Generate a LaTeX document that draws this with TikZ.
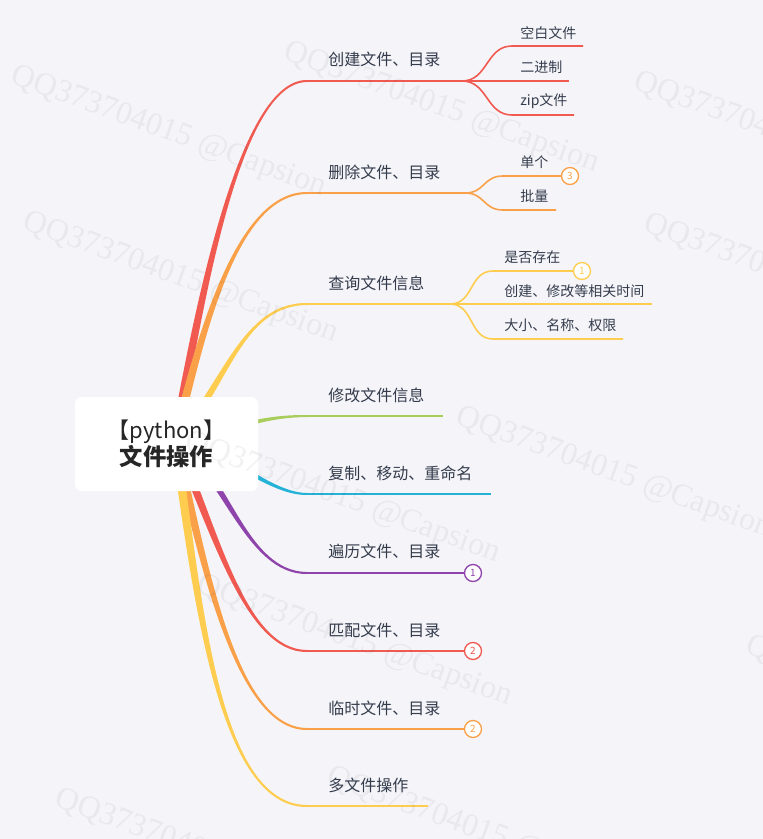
\documentclass[tikz,border=0pt]{standalone}
\usepackage{fontspec}
\setmainfont{Noto Sans CJK SC}
\newfontfamily\wmfont{Liberation Serif}
\definecolor{bg}{HTML}{F5F5F9}
\definecolor{txt}{HTML}{343C4C}
\definecolor{rootc}{HTML}{262626}
\definecolor{cr}{HTML}{F05A50}
\definecolor{co}{HTML}{F9A048}
\definecolor{cy}{HTML}{FECD50}
\definecolor{cg}{HTML}{A8CD5A}
\definecolor{cb}{HTML}{25B2D7}
\definecolor{cp}{HTML}{8E44AA}
\definecolor{wmc}{HTML}{404050}
% tapered branch going up: left edge pairs with upper edge
\newcommand\brUp[9]{\fill[#1] ({#2-4.5},#3) .. controls ({#4-4},#5) and (#6,{#7-1.6}) .. (#8,{#9-1}) -- (#8,{#9+1}) .. controls (#6,{#7+1.6}) and ({#4+4},#5) .. ({#2+4.5},#3) -- cycle;}
% tapered branch going down: left edge pairs with lower edge
\newcommand\brDn[9]{\fill[#1] ({#2-4.5},#3) .. controls ({#4-4},#5) and (#6,{#7+1.6}) .. (#8,{#9+1}) -- (#8,{#9-1}) .. controls (#6,{#7-1.6}) and ({#4+4},#5) .. ({#2+4.5},#3) -- cycle;}
% tapered branch, mostly horizontal
\newcommand\brHz[9]{\fill[#1] (#2,{#3-4.5}) .. controls (#4,{#5-4}) and (#6,{#7-1.6}) .. (#8,{#9-1}) -- (#8,{#9+1}) .. controls (#6,{#7+1.6}) and (#4,{#5+4}) .. (#2,{#3+4.5}) -- cycle;}
\begin{document}
\begin{tikzpicture}[x=0.75pt,y=-0.75pt,
  lbl/.style={anchor=west,inner sep=0pt,text=txt,font=\fontsize{12}{14}\selectfont},
  sublbl/.style={anchor=west,inner sep=0pt,text=txt,font=\fontsize{10.5}{12}\selectfont},
  mainln/.style={line width=1.5pt},
  subln/.style={line width=1.2pt},
  badge/.style={circle,draw=#1,fill=white,text=#1,line width=1pt,minimum size=12.75pt,inner sep=0pt,font=\fontsize{7.5}{8}\selectfont},
  wm/.style={anchor=north west,inner sep=0pt,rotate=-20,text=wmc,text opacity=0.07,font=\wmfont\fontsize{24}{24}\selectfont},
  rootbox/.style={fill=white,rounded corners=5pt,minimum width=137.25pt,minimum height=70.5pt,inner sep=0pt,align=center,text=rootc}
]
\fill[bg] (0,0) rectangle (763,839);
\useasboundingbox (0,0) rectangle (763,839);

% ---------- coordinates ----------
\coordinate (O) at (175,440);
\coordinate (E1) at (307,81);  \coordinate (F1) at (462,81);
\coordinate (s11) at (512,46); \coordinate (e11) at (583,46);
\coordinate (e12) at (569,81);
\coordinate (s13) at (512,115); \coordinate (e13) at (574,115);
\coordinate (E2) at (307,193); \coordinate (F2) at (465,193);
\coordinate (s21) at (503,176);
\coordinate (s22) at (503,210); \coordinate (e22) at (556,210);
\coordinate (E3) at (307,304); \coordinate (F3) at (450,304);
\coordinate (s31) at (493,271);
\coordinate (e32) at (652,304);
\coordinate (s33) at (493,339); \coordinate (e33) at (623,339);
\coordinate (E4) at (307,416); \coordinate (e4) at (443,416);
\coordinate (E5) at (307,494); \coordinate (e5) at (491,494);
\coordinate (E6) at (307,573);
\coordinate (E7) at (307,651);
\coordinate (E8) at (307,729);
\coordinate (E9) at (307,806); \coordinate (e9) at (428,806);

% ---------- tapered branches from the root ----------
\brUp{cr}{175}{440}{200}{300}{240}{81}{307}{81}
\brUp{co}{175}{440}{200}{340}{235}{193}{307}{193}
\brUp{cy}{175}{440}{225}{390}{240}{304}{307}{304}
\brHz{cg}{175}{440}{215}{440}{245}{416}{307}{416}
\brHz{cb}{175}{440}{215}{440}{265}{494}{307}{494}
\brDn{cp}{175}{440}{225}{470}{245}{573}{307}{573}
\brDn{cr}{175}{440}{215}{530}{245}{651}{307}{651}
\brDn{co}{175}{440}{203}{560}{235}{729}{307}{729}
\brDn{cy}{175}{440}{198}{600}{218}{806}{307}{806}

% ---------- badges ----------
\node[badge=co] (B2) at (570,176) {3};
\node[badge=cy] (B3) at (582,271) {1};
\node[badge=cp] (B6) at (473,573) {1};
\node[badge=cr] (B7) at (473,651) {2};
\node[badge=co] (B8) at (473,729) {2};

% ---------- branch lines ----------
\draw[cr,mainln] (E1) -- (F1);
\draw[cr,subln] (F1) -- (e12);
\draw[cr,subln] (F1) .. controls +(26,0) and +(-26,0) .. (s11) -- (e11);
\draw[cr,subln] (F1) .. controls +(26,0) and +(-26,0) .. (s13) -- (e13);

\draw[co,mainln] (E2) -- (F2);
\draw[co,subln] (F2) .. controls +(20,0) and +(-20,0) .. (s21) -- (B2.west);
\draw[co,subln] (F2) .. controls +(20,0) and +(-20,0) .. (s22) -- (e22);

\draw[cy,mainln] (E3) -- (F3);
\draw[cy,subln] (F3) -- (e32);
\draw[cy,subln] (F3) .. controls +(24,0) and +(-24,0) .. (s31) -- (B3.west);
\draw[cy,subln] (F3) .. controls +(24,0) and +(-24,0) .. (s33) -- (e33);

\draw[cg,mainln] (E4) -- (e4);
\draw[cb,mainln] (E5) -- (e5);
\draw[cp,mainln] (E6) -- (B6.west);
\draw[cr,mainln] (E7) -- (B7.west);
\draw[co,mainln] (E8) -- (B8.west);
\draw[cy,mainln] (E9) -- (e9);

% ---------- labels ----------
\node[lbl] (L1) at (328,59.5) {创建文件、目录};
\node[sublbl] (L11) at (520,33) {空白文件};
\node[sublbl] (L12) at (520,67) {二进制};
\node[sublbl] (L13) at (520,101) {zip文件};
\node[lbl] (L2) at (328,172) {删除文件、目录};
\node[sublbl] (L21) at (520,162) {单个};
\node[sublbl] (L22) at (520,196.5) {批量};
\node[lbl] (L3) at (328,283) {查询文件信息};
\node[sublbl] (L31) at (504,257.5) {是否存在};
\node[sublbl] (L32) at (504,291) {创建、修改等相关时间};
\node[sublbl] (L33) at (504,325) {大小、名称、权限};
\node[lbl] (L4) at (328,395) {修改文件信息};
\node[lbl] (L5) at (328,473) {复制、移动、重命名};
\node[lbl] (L6) at (328,551.5) {遍历文件、目录};
\node[lbl] (L7) at (328,630) {匹配文件、目录};
\node[lbl] (L8) at (328,708.5) {临时文件、目录};
\node[lbl] (L9) at (328,785.5) {多文件操作};

% ---------- root ----------
\node[rootbox] (root) at (166.5,444) {\fontsize{16.5}{22}\selectfont 【python】\\[0pt]\fontsize{17.5}{22}\selectfont\bfseries 文件操作};

% ---------- watermarks ----------
\node[wm] (w1) at (17,62) {QQ373704015 @Capsion};
\node[wm] (w2) at (29,208) {QQ373704015 @Capsion};
\node[wm] (w3) at (290,38) {QQ373704015 @Capsion};
\node[wm] (w4) at (640,68) {QQ373704015 @Capsion};
\node[wm] (w5) at (650,210) {QQ373704015 @Capsion};
\node[wm] (w6) at (462,403) {QQ373704015 @Capsion};
\node[wm] (w7) at (191,428) {QQ373704015 @Capsion};
\node[wm] (w8) at (203,571) {QQ373704015 @Capsion};
\node[wm] (w9) at (61,785) {QQ373704015 @Capsion};
\node[wm] (w10) at (333,763) {QQ373704015 @Capsion};
\node[wm] (w11) at (752,632) {QQ373704015 @Capsion};
\end{tikzpicture}
\end{document}
